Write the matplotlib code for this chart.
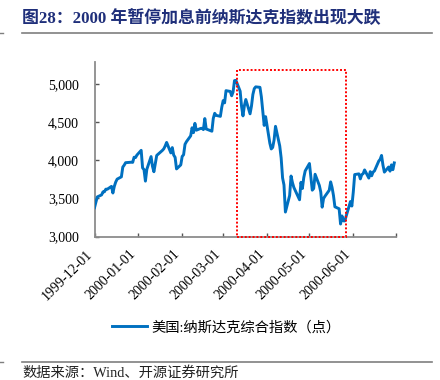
import pandas as pd
import matplotlib
matplotlib.use('Agg')
import matplotlib.pyplot as plt
import matplotlib.dates as mdates
from matplotlib.patches import Rectangle
from matplotlib.lines import Line2D
from matplotlib.ticker import FuncFormatter

# 纳斯达克综合指数 日度收盘（1999-12 ~ 2000-06）
dec_days = [1, 2, 3, 6, 7, 8, 9, 10, 13, 14, 15, 16, 17, 20, 21, 22, 23, 27, 28, 29, 30, 31]
dec_vals = [3378, 3452, 3520, 3546, 3586, 3587, 3621, 3620, 3658, 3571, 3658, 3715, 3753, 3783,
            3911, 3937, 3969, 3975, 3973, 4041, 4036, 4069]
jan_days = [3, 4, 5, 6, 7, 10, 11, 12, 13, 14, 18, 19, 20, 21, 24, 25, 26, 27, 28, 31]
jan_vals = [4131, 3901, 3877, 3727, 3882, 4049, 3921, 3850, 3957, 4064, 4130, 4151, 4189, 4235,
            4097, 4167, 4069, 4039, 3887, 3940]
feb_days = [1, 2, 3, 4, 7, 8, 9, 10, 11, 14, 15, 16, 17, 18, 22, 23, 24, 25, 28, 29]
feb_vals = [4051, 4073, 4210, 4244, 4321, 4427, 4363, 4485, 4395, 4418, 4420, 4403, 4548, 4411,
            4382, 4550, 4617, 4590, 4577, 4697]
mar_days = [1, 2, 3, 6, 7, 8, 9, 10, 13, 14, 15, 16, 17, 20, 21, 22, 23, 24, 27, 28, 29, 30, 31]
mar_vals = [4784, 4754, 4914, 4904, 4847, 4897, 5046, 5049, 4907, 4707, 4583, 4717, 4798, 4610,
            4711, 4864, 4941, 4964, 4958, 4833, 4645, 4458, 4573]
apr_days = [3, 4, 5, 6, 7, 10, 11, 12, 13, 14, 17, 18, 19, 20, 24, 25, 26, 27, 28]
apr_vals = [4224, 4149, 4169, 4267, 4446, 4188, 4031, 3769, 3676, 3321, 3539, 3794, 3706, 3643,
            3482, 3711, 3630, 3774, 3861]
may_days = [1, 2, 3, 4, 5, 8, 9, 10, 11, 12, 15, 16, 17, 18, 19, 22, 23, 24, 25, 26, 30, 31]
may_vals = [3958, 3785, 3608, 3630, 3817, 3670, 3585, 3385, 3499, 3529, 3607, 3717, 3644, 3538,
            3390, 3364, 3164, 3270, 3205, 3205, 3459, 3400]
jun_days = [1, 2, 5, 6, 7, 8, 9, 12, 13, 14, 15, 16, 19, 20, 21, 22, 23, 26, 27, 28, 29, 30]
jun_vals = [3582, 3813, 3822, 3756, 3812, 3825, 3874, 3767, 3851, 3797, 3845, 3861, 3989, 4013,
            4064, 3936, 3845, 3912, 3858, 3940, 3877, 3966]

months = [('1999-12', dec_days, dec_vals), ('2000-01', jan_days, jan_vals),
          ('2000-02', feb_days, feb_vals), ('2000-03', mar_days, mar_vals),
          ('2000-04', apr_days, apr_vals), ('2000-05', may_days, may_vals),
          ('2000-06', jun_days, jun_vals)]

tick_dates = ['1999-12-01', '2000-01-01', '2000-02-01', '2000-03-01',
              '2000-04-01', '2000-05-01', '2000-06-01', '2000-07-01']
tick_labels = ['1999-12-01', '2000-01-01', '2000-02-01', '2000-03-01',
               '2000-04-01', '2000-05-01', '2000-06-01', '']
y_ticks = [3000, 3500, 4000, 4500, 5000]

# 红框：3月10日见顶 ~ 5月下旬
box_start, box_end = '2000-03-11', '2000-05-27'
box_low, box_high = 3000, 5180

title = '图28：2000 年暂停加息前纳斯达克指数出现大跌'
series_name = '美国:纳斯达克综合指数（点）'
source = '数据来源：Wind、开源证券研究所'

dates, vals = [], []
for ym, ds, vs in months:
    dates += [pd.Timestamp(f'{ym}-{d:02d}') for d in ds]
    vals += vs
df = pd.DataFrame({'date': dates, 'val': vals})

mixed = ['Liberation Serif', 'Noto Sans CJK SC']
plt.rcParams['font.family'] = mixed

fig = plt.figure(figsize=(4.4, 3.8), dpi=100)
ax = fig.add_axes([0.2148, 0.3776, 0.6845, 0.46])

ax.plot(df['date'], df['val'], color='#0070C0', lw=2.1, label=series_name, zorder=3)

x0 = mdates.date2num(pd.Timestamp(box_start))
x1 = mdates.date2num(pd.Timestamp(box_end))
ax.add_patch(Rectangle((x0, box_low), x1 - x0, box_high - box_low, fill=False,
                       edgecolor='#FF0000', lw=1.4, linestyle=(0, (1, 1)), zorder=4, clip_on=False))

ax.set_xlim(pd.Timestamp('1999-12-01'), pd.Timestamp('2000-07-01'))
ax.set_ylim(3000, 5294)
ax.set_xticks([pd.Timestamp(t) for t in tick_dates])
ax.set_xticklabels(tick_labels, rotation=45, ha='right', fontsize=10)
ax.set_yticks(y_ticks)
ax.yaxis.set_major_formatter(FuncFormatter(lambda v, p: f'{v:,.0f}'))
for lab in ax.get_yticklabels():
    lab.set_fontsize(10)

for s in ['top', 'right']:
    ax.spines[s].set_visible(False)
for s in ['left', 'bottom']:
    ax.spines[s].set_color('#8C8C8C')
    ax.spines[s].set_linewidth(1.3)
ax.tick_params(axis='both', direction='in', length=3, width=1, color='#555555')
ax.tick_params(axis='y', pad=11)
ax.tick_params(axis='x', pad=8)

ax.legend(loc='center', bbox_to_anchor=(0.515, 0.138), bbox_transform=fig.transFigure,
          frameon=False, handlelength=2.4, handletextpad=0.35, prop={'size': 10.3})

# 标题、分隔线、数据来源
fig.text(0.05, 0.952, title, fontsize=12.2, fontweight='bold', color='#1F2F7A',
         ha='left', va='center')
for yy in [0.913, 0.047]:
    fig.add_artist(Line2D([0.05, 0.982], [yy, yy], color='#7F7F7F', lw=1.2))
    fig.add_artist(Line2D([0.0, 0.006], [yy, yy], color='#7F7F7F', lw=1.0))
fig.text(0.05, 0.018, source, fontsize=10.3, color='#222222', ha='left', va='center')

plt.savefig('out.png', dpi=100)
